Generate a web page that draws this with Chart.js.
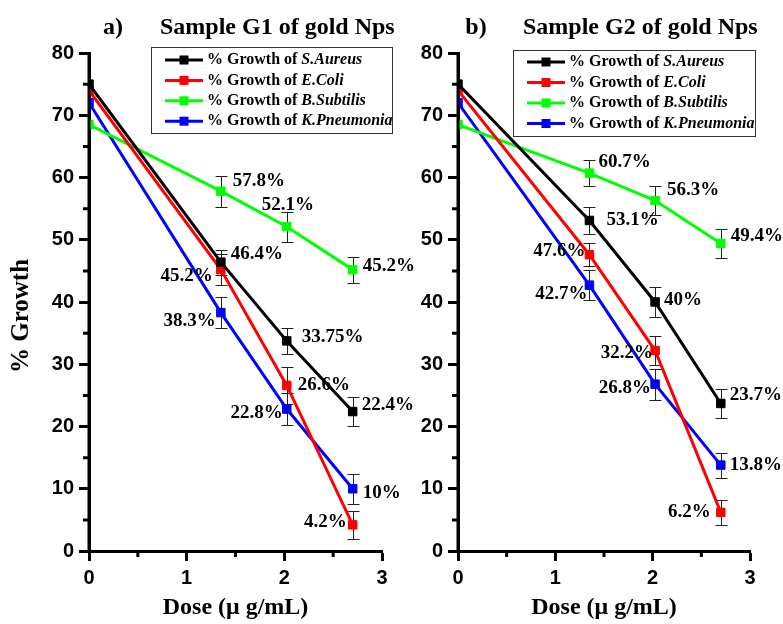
<!DOCTYPE html>
<html>
<head>
<meta charset="utf-8">
<script src="https://cdn.jsdelivr.net/npm/chart.js@4.4.1/dist/chart.umd.min.js"></script>
<style>
    body { margin: 0; background: #fff; }
    #wrap { position: relative; width: 783px; height: 624px; background: #fff; }
    canvas { position: absolute; top: 0; }
</style>
</head>
<body>
<div id="wrap">
    <canvas id="chartG1" width="425" height="624" style="left:0"></canvas>
    <canvas id="chartG2" width="373" height="624" style="left:410px"></canvas>
</div>
<script>
// Datos (dosis en µg/mL, % de crecimiento)
const doses = [0, 1.35, 2.025, 2.7];
const bacteria = ['S.Aureus', 'E.Coli', 'B.Subtilis', 'K.Pneumonia'];
const colors = ['#000000', '#ff0000', '#00ff00', '#0000ff'];

// Muestra G1
const g1Aureus = [75, 46.4, 33.75, 22.4];
const g1Coli = [74, 45.2, 26.6, 4.2];
const g1Subtilis = [68.5, 57.8, 52.1, 45.2];
const g1Pneumonia = [72, 38.3, 22.8, 10];
const g1AureusErr = [0, 2.0, 2.1, 2.3];
const g1ColiErr = [0, 2.5, 3.0, 2.3];
const g1SubtilisErr = [0, 2.5, 2.4, 2.1];
const g1PneumoniaErr = [0, 2.5, 2.6, 2.4];

// Muestra G2
const g2Aureus = [75, 53.1, 40, 23.7];
const g2Coli = [74, 47.6, 32.2, 6.2];
const g2Subtilis = [68.5, 60.7, 56.3, 49.4];
const g2Pneumonia = [72, 42.7, 26.8, 13.8];
const g2AureusErr = [0, 2.2, 2.4, 2.3];
const g2ColiErr = [0, 1.8, 2.3, 2.0];
const g2SubtilisErr = [0, 2.1, 2.3, 2.4];
const g2PneumoniaErr = [0, 2.4, 2.5, 2.0];

// Posición de las etiquetas de valor: [lado, dx, dy] por punto (el punto 0 no lleva etiqueta)
const g1LabelPos = [
    [null, ['right', 10, -8], ['right', 15, -4], ['right', 9, -6]],
    [null, ['left', -8, 6], ['right', 11, 0], ['left', -6, -3]],
    [null, ['right', 12, -10], ['right', -25, -22], ['right', 10, -4]],
    [null, ['left', -5, 9], ['left', -4, 4], ['right', 10, 4]]
];
const g2LabelPos = [
    [null, ['right', 17, 0], ['right', 9, -2], ['right', 9, -8]],
    [null, ['left', -4, -4], ['left', -2, 3], ['left', -10, 0]],
    [null, ['right', 9, -11], ['right', 12, -10], ['right', 10, -7]],
    [null, ['left', -2, 9], ['left', -4, 4], ['right', 9, 0]]
];

const serifBold = 'bold 19px "Liberation Serif", "Times New Roman", serif';

// Plugin: barras de error, ticks menores, etiquetas, leyenda y títulos
const panelDecor = {
    id: 'panelDecor',
    beforeDatasetsDraw(chart, args, opts) {
        const ctx = chart.ctx;
        const yScale = chart.scales.y;
        ctx.save();
        ctx.strokeStyle = '#222';
        ctx.lineWidth = 1;
        chart.data.datasets.forEach((ds, i) => {
            const meta = chart.getDatasetMeta(i);
            const errs = opts.errors[i];
            ds.data.forEach((p, j) => {
                const e = errs[j];
                if (!e) return;
                const x = Math.round(meta.data[j].x) + 0.5;
                const yTop = Math.round(yScale.getPixelForValue(p.y + e)) + 0.5;
                const yBot = Math.round(yScale.getPixelForValue(p.y - e)) + 0.5;
                ctx.beginPath();
                ctx.moveTo(x, yTop); ctx.lineTo(x, yBot);
                ctx.moveTo(x - 6, yTop); ctx.lineTo(x + 6, yTop);
                ctx.moveTo(x - 6, yBot); ctx.lineTo(x + 6, yBot);
                ctx.stroke();
            });
        });
        ctx.restore();
    },
    afterDraw(chart, args, opts) {
        const ctx = chart.ctx;
        const xScale = chart.scales.x;
        const yScale = chart.scales.y;
        const area = chart.chartArea;
        ctx.save();

        // eje Y por encima de los marcadores en x = 0
        ctx.strokeStyle = '#000';
        ctx.lineWidth = 3;
        ctx.beginPath();
        ctx.moveTo(area.left, area.top);
        ctx.lineTo(area.left, area.bottom);
        ctx.stroke();

        // ticks menores
        ctx.beginPath();
        for (let v = 5; v < 80; v += 10) {
            const y = yScale.getPixelForValue(v);
            ctx.moveTo(area.left, y); ctx.lineTo(area.left - 6, y);
        }
        for (let v = 0.5; v < 3; v += 1) {
            const x = xScale.getPixelForValue(v);
            ctx.moveTo(x, area.bottom); ctx.lineTo(x, area.bottom + 6);
        }
        ctx.stroke();

        // etiquetas de valor
        ctx.fillStyle = '#000';
        ctx.font = serifBold;
        ctx.textBaseline = 'middle';
        chart.data.datasets.forEach((ds, i) => {
            const meta = chart.getDatasetMeta(i);
            ds.data.forEach((p, j) => {
                const pos = opts.labelPos[i][j];
                if (!pos) return;
                const pt = meta.data[j];
                ctx.textAlign = pos[0] === 'left' ? 'right' : 'left';
                ctx.fillText(p.y + '%', pt.x + pos[1], pt.y + pos[2]);
            });
        });

        // leyenda
        const lg = opts.legend;
        ctx.fillStyle = '#fff';
        ctx.fillRect(lg.x, lg.y, lg.w, lg.h);
        ctx.strokeStyle = '#333';
        ctx.lineWidth = 1;
        ctx.strokeRect(lg.x + 0.5, lg.y + 0.5, lg.w, lg.h);
        chart.data.datasets.forEach((ds, i) => {
            const y = lg.y + lg.rowTop + i * lg.rowStep;
            const x0 = lg.x + 14;
            ctx.strokeStyle = ds.borderColor;
            ctx.lineWidth = 3;
            ctx.beginPath();
            ctx.moveTo(x0, y); ctx.lineTo(x0 + 38, y);
            ctx.stroke();
            ctx.fillStyle = ds.borderColor;
            ctx.fillRect(x0 + 19 - 4.5, y - 4.5, 9, 9);
            ctx.fillStyle = '#000';
            ctx.textAlign = 'left';
            ctx.font = 'bold 16px "Liberation Serif", serif';
            const prefix = '% Growth of ';
            ctx.fillText(prefix, x0 + 42, y);
            const w = ctx.measureText(prefix).width;
            ctx.font = 'italic bold 16px "Liberation Serif", serif';
            ctx.fillText(ds.label, x0 + 42 + w, y);
        });

        // títulos
        ctx.fillStyle = '#000';
        ctx.font = 'bold 24px "Liberation Serif", serif';
        ctx.textBaseline = 'middle';
        ctx.textAlign = 'center';
        ctx.fillText(opts.letter, opts.letterX, 28);
        ctx.textAlign = 'left';
        ctx.fillText(opts.title, opts.titleX, 28);

        if (opts.yTitle) {
            ctx.translate(22, 316);
            ctx.rotate(-Math.PI / 2);
            ctx.textAlign = 'center';
            ctx.font = 'bold 25px "Liberation Serif", serif';
            ctx.fillText(opts.yTitle, 0, 0);
        }
        ctx.restore();
    }
};

function buildDatasets(series) {
    return series.map((vals, i) => ({
        label: bacteria[i],
        data: vals.map((v, j) => ({ x: doses[j], y: v })),
        borderColor: colors[i],
        backgroundColor: colors[i],
        borderWidth: 3,
        pointStyle: 'rect',
        pointRadius: 6,
        pointBorderWidth: 1,
        tension: 0
    }));
}

function makeChart(canvasId, series, errors, labelPos, decor, yAxisWidth, rightPad) {
    const tickFont = { family: '"Liberation Sans", Arial, sans-serif', weight: 'bold', size: 20 };
    return new Chart(document.getElementById(canvasId), {
        type: 'line',
        data: { datasets: buildDatasets(series) },
        options: {
            responsive: false,
            animation: false,
            events: [],
            layout: { padding: { left: 0, top: 53, right: rightPad, bottom: 0 } },
            plugins: {
                legend: { display: false },
                tooltip: { enabled: false },
                panelDecor: { errors: errors, labelPos: labelPos, ...decor }
            },
            scales: {
                x: {
                    type: 'linear',
                    min: 0,
                    max: 3,
                    ticks: { stepSize: 1, color: '#000', font: tickFont, padding: 5 },
                    grid: { drawOnChartArea: false, tickLength: 10, tickWidth: 3, tickColor: '#000' },
                    border: { display: true, width: 3, color: '#000' },
                    title: {
                        display: true,
                        text: 'Dose (\u03bc g/mL)',
                        color: '#000',
                        font: { family: '"Liberation Serif", serif', weight: 'bold', size: 24 },
                        padding: { top: 0, bottom: 2 }
                    },
                    afterFit: (scale) => { scale.height = 73; }
                },
                y: {
                    min: 0,
                    max: 80,
                    ticks: { stepSize: 10, color: '#000', font: tickFont, padding: 5 },
                    grid: { drawOnChartArea: false, tickLength: 10, tickWidth: 3, tickColor: '#000' },
                    border: { display: true, width: 3, color: '#000' },
                    afterFit: (scale) => { scale.width = yAxisWidth; }
                }
            }
        },
        plugins: [panelDecor]
    });
}

// Panel a) muestra G1
makeChart('chartG1',
    [g1Aureus, g1Coli, g1Subtilis, g1Pneumonia],
    [g1AureusErr, g1ColiErr, g1SubtilisErr, g1PneumoniaErr],
    g1LabelPos,
    {
        letter: 'a)', letterX: 113, title: 'Sample G1 of gold Nps', titleX: 160,
        yTitle: '% Growth',
        legend: { x: 151, y: 47, w: 241, h: 86, rowTop: 13, rowStep: 20.4 }
    },
    89, 43);

// Panel b) muestra G2
makeChart('chartG2',
    [g2Aureus, g2Coli, g2Subtilis, g2Pneumonia],
    [g2AureusErr, g2ColiErr, g2SubtilisErr, g2PneumoniaErr],
    g2LabelPos,
    {
        letter: 'b)', letterX: 66, title: 'Sample G2 of gold Nps', titleX: 113,
        yTitle: null,
        legend: { x: 103, y: 50, w: 242, h: 86, rowTop: 12, rowStep: 20.5 }
    },
    48, 33);
</script>
</body>
</html>
